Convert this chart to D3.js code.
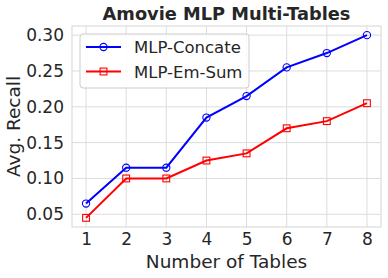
<!DOCTYPE html>
<html>
<head>
<meta charset="utf-8">
<script src="https://cdn.jsdelivr.net/npm/d3@7"></script>
<style>
  body { margin: 0; background: #fff; }
  text { font-family: "DejaVu Sans", sans-serif; fill: #262626; }
</style>
</head>
<body>
<svg id="chart" width="388" height="278"></svg>
<script>
'use strict';
let tables = [1, 2, 3, 4, 5, 6, 7, 8];
let concate = [0.065, 0.115, 0.115, 0.185, 0.215, 0.255, 0.275, 0.300];
let emSum = [0.045, 0.100, 0.100, 0.125, 0.135, 0.170, 0.180, 0.205];
let yTicks = [0.05, 0.10, 0.15, 0.20, 0.25, 0.30];
let seriesNames = ["MLP-Concate", "MLP-Em-Sum"];
let seriesColors = ["#0000ff", "#ff0000"];

let svg = d3.select("#chart"),
    margin = {top: 26, right: 7, bottom: 51, left: 72},
    width = +svg.attr("width"),
    height = +svg.attr("height");

let x = d3.scaleLinear()
    .domain([0.65, 8.35])
    .range([margin.left, width - margin.right]);

let y = d3.scaleLinear()
    .domain([0.03225, 0.31275])
    .range([height - margin.bottom, margin.top]);

let gridColor = "#dcdcdc";

// grid
svg.append("g")
    .selectAll("line")
    .data(tables)
    .enter().append("line")
    .attr("x1", d => x(d)).attr("x2", d => x(d))
    .attr("y1", margin.top).attr("y2", height - margin.bottom)
    .attr("stroke", gridColor).attr("stroke-width", 1);
svg.append("g")
    .selectAll("line")
    .data(yTicks)
    .enter().append("line")
    .attr("y1", d => y(d)).attr("y2", d => y(d))
    .attr("x1", margin.left).attr("x2", width - margin.right)
    .attr("stroke", gridColor).attr("stroke-width", 1);

// frame
svg.append("rect")
    .attr("x", margin.left).attr("y", margin.top)
    .attr("width", width - margin.right - margin.left)
    .attr("height", height - margin.bottom - margin.top)
    .attr("fill", "none")
    .attr("stroke", gridColor).attr("stroke-width", 1.2);

// axes
let xAxis = svg.append("g")
    .attr("transform", "translate(0," + (height - margin.bottom) + ")")
    .call(d3.axisBottom(x).tickValues(tables).tickFormat(d3.format("d")).tickSize(0).tickPadding(6));
let yAxis = svg.append("g")
    .attr("transform", "translate(" + margin.left + ",0)")
    .call(d3.axisLeft(y).tickValues(yTicks).tickFormat(d3.format(".2f")).tickSize(0).tickPadding(8));
[xAxis, yAxis].forEach(a => {
    a.select(".domain").remove();
    a.selectAll("text")
        .style("font-family", "DejaVu Sans")
        .style("font-size", "17px")
        .attr("fill", "#262626");
});

// titles
svg.append("text")
    .attr("x", (margin.left + width - margin.right) / 2)
    .attr("y", 19.5)
    .attr("text-anchor", "middle")
    .style("font-size", "17.8px")
    .style("font-weight", "bold")
    .text("Amovie MLP Multi-Tables");

svg.append("text")
    .attr("x", (margin.left + width - margin.right) / 2)
    .attr("y", 268)
    .attr("text-anchor", "middle")
    .style("font-size", "18.5px")
    .text("Number of Tables");

svg.append("text")
    .attr("transform", "translate(20," + ((margin.top + height - margin.bottom) / 2) + ") rotate(-90)")
    .attr("text-anchor", "middle")
    .style("font-size", "18.5px")
    .text("Avg. Recall");

// series
let series = [concate, emSum].map((vals, i) => ({
    name: seriesNames[i],
    color: seriesColors[i],
    marker: i === 0 ? "circle" : "square",
    data: vals.map((v, j) => ({t: tables[j], v: v}))
}));

let line = d3.line()
    .x(d => x(d.t))
    .y(d => y(d.v));

function drawMarker(g, kind, color, cx, cy) {
    if (kind === "circle") {
        g.append("circle")
            .attr("cx", cx).attr("cy", cy).attr("r", 3.6)
            .attr("fill", "none").attr("stroke", color).attr("stroke-width", 1.1);
    } else {
        g.append("rect")
            .attr("x", cx - 3.4).attr("y", cy - 3.4)
            .attr("width", 6.8).attr("height", 6.8)
            .attr("fill", "none").attr("stroke", color).attr("stroke-width", 1.1);
    }
}

let sg = svg.selectAll(".series")
    .data(series)
    .enter().append("g")
    .attr("class", "series");
sg.append("path")
    .attr("d", d => line(d.data))
    .attr("fill", "none")
    .attr("stroke", d => d.color)
    .attr("stroke-width", 2);
sg.each(function(s) {
    let g = d3.select(this);
    s.data.forEach(d => drawMarker(g, s.marker, s.color, x(d.t), y(d.v)));
});

// legend
let legend = svg.append("g").attr("transform", "translate(80,34)");
legend.append("rect")
    .attr("width", 169).attr("height", 54)
    .attr("rx", 3)
    .attr("fill", "#fff").attr("fill-opacity", 0.85)
    .attr("stroke", "#cccccc").attr("stroke-width", 1);
series.forEach((s, i) => {
    let ly = 13 + i * 24.5;
    let g = legend.append("g");
    g.append("line")
        .attr("x1", 6).attr("x2", 41)
        .attr("y1", ly).attr("y2", ly)
        .attr("stroke", s.color).attr("stroke-width", 2);
    drawMarker(g, s.marker, s.color, 23.5, ly);
    g.append("text")
        .attr("x", 54).attr("y", ly + 6)
        .style("font-size", "16.5px")
        .text(s.name);
});
</script>
</body>
</html>
